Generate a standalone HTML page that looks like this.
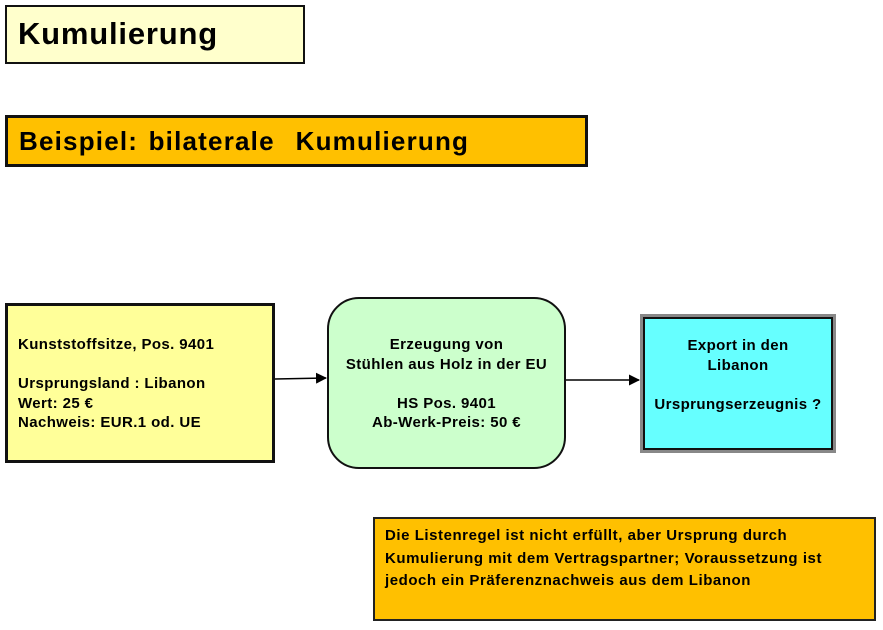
<!DOCTYPE html><html><head><meta charset="utf-8"><style>
body{margin:0;width:883px;height:630px;background:#fff;position:relative;overflow:hidden;font-family:"Liberation Sans",sans-serif}
.b{position:absolute;box-sizing:border-box}
.t{font-weight:bold;font-size:15px;line-height:19.5px;letter-spacing:0.4px}
</style></head><body>
<div class="b" style="left:5px;top:5px;width:300px;height:59px;background:#ffffcc;border:2px solid #111;font-weight:bold;font-size:31px;padding:9px 0 0 11px;letter-spacing:0.8px">Kumulierung</div>
<div class="b" style="left:5px;top:115px;width:583px;height:52px;background:#ffc000;border:3px solid #111;font-weight:bold;font-size:26px;padding:8px 0 0 11px;letter-spacing:1.2px;word-spacing:2px">Beispiel: bilaterale&nbsp; Kumulierung</div>
<div class="b t" style="left:5px;top:303px;width:270px;height:160px;background:#ffff99;border:3px solid #111;padding:29px 0 0 10px">Kunststoffsitze, Pos. 9401<br><br>Ursprungsland : Libanon<br>Wert: 25 €<br>Nachweis: EUR.1 od. UE</div>
<div class="b t" style="left:327px;top:297px;width:239px;height:172px;background:#ccffcc;border:2px solid #111;border-radius:32px;text-align:center;padding-top:36px">Erzeugung von<br>Stühlen aus Holz in der EU<br><br>HS Pos. 9401<br>Ab-Werk-Preis: 50 €</div>
<div class="b" style="left:640px;top:314px;width:196px;height:139px;background:#888;padding:3px"><div class="t" style="width:100%;height:100%;box-sizing:border-box;background:#66ffff;border:2px solid #111;text-align:center;padding-top:17px">Export in den<br>Libanon<br><br>Ursprungserzeugnis ?</div></div>
<svg class="b" style="left:0;top:0" width="883" height="630"><defs><marker id="a" markerWidth="11" markerHeight="11" refX="10" refY="5.5" orient="auto" markerUnits="userSpaceOnUse"><path d="M0,0L11,5.5L0,11z" fill="#000"/></marker></defs>
<line x1="275" y1="379" x2="326" y2="378" stroke="#000" stroke-width="1.5" marker-end="url(#a)"/>
<line x1="566" y1="380" x2="639" y2="380" stroke="#000" stroke-width="1.5" marker-end="url(#a)"/></svg>
<div class="b" style="left:373px;top:517px;width:503px;height:104px;background:#ffc000;border:2px solid #222;font-weight:bold;font-size:15px;line-height:22.5px;padding:6px 0 0 10px;letter-spacing:0.55px;white-space:nowrap">Die Listenregel ist nicht erfüllt, aber Ursprung durch<br>Kumulierung mit dem Vertragspartner; Voraussetzung ist<br>jedoch ein Präferenznachweis aus dem Libanon</div>
</body></html>
